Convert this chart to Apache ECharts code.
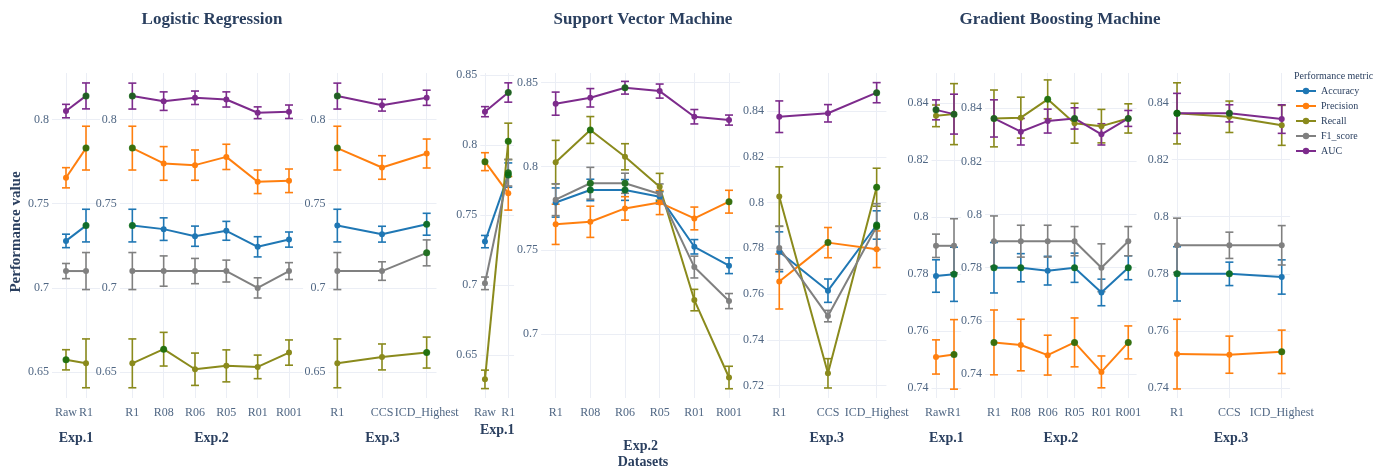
<!DOCTYPE html>
<html>
<head>
<meta charset="utf-8">
<script src="https://cdn.jsdelivr.net/npm/echarts@6/dist/echarts.min.js"></script>
<style>
  html, body { margin: 0; padding: 0; background: #ffffff; }
  #chart { width: 1381px; height: 470px; }
</style>
</head>
<body>
<div id="chart"></div>
<script>
// ---- Data -------------------------------------------------------------
// Metric order in every *Mean / *Err / *Best array:
// Accuracy, Precision, Recall, F1_score, AUC
const metrics = ['Accuracy', 'Precision', 'Recall', 'F1_score', 'AUC'];

// Tick labels of the y axes
const lrTicks   = [0.65, 0.7, 0.75, 0.8];
const svm1Ticks = [0.65, 0.7, 0.75, 0.8, 0.85];
const svm2Ticks = [0.7, 0.75, 0.8, 0.85];
const svm3Ticks = [0.72, 0.74, 0.76, 0.78, 0.8, 0.82, 0.84];
const gbmTicks  = [0.74, 0.76, 0.78, 0.8, 0.82, 0.84];

// Dataset categories
const exp1Cats = ['Raw', 'R1'];
const exp2Cats = ['R1', 'R08', 'R06', 'R05', 'R01', 'R001'];
const exp3Cats = ['R1', 'CCS', 'ICD_Highest'];

// Logistic Regression
const lr1Mean = [
  [0.7279, 0.737],
  [0.7654, 0.783],
  [0.6573, 0.6552],
  [0.71, 0.71],
  [0.805, 0.814]
];
const lr1Err = [
  [0.004, 0.0097],
  [0.006, 0.013],
  [0.006, 0.0145],
  [0.0045, 0.011],
  [0.004, 0.0077]
];
const lr1Best = [[1], [1], [0], [], [1]];

const lr2Mean = [
  [0.737, 0.7349, 0.7307, 0.7339, 0.7244, 0.7287],
  [0.783, 0.7739, 0.7729, 0.7778, 0.763, 0.7636],
  [0.6552, 0.6636, 0.6517, 0.6537, 0.6531, 0.6616],
  [0.71, 0.71, 0.71, 0.71, 0.70, 0.71],
  [0.8139, 0.8109, 0.8129, 0.8119, 0.804, 0.8046]
];
const lr2Err = [
  [0.0097, 0.0067, 0.006, 0.0056, 0.006, 0.0045],
  [0.013, 0.01, 0.009, 0.0075, 0.007, 0.007],
  [0.0145, 0.01, 0.0096, 0.0095, 0.007, 0.0075],
  [0.011, 0.009, 0.0075, 0.0065, 0.006, 0.005],
  [0.0077, 0.0055, 0.004, 0.0045, 0.0035, 0.004]
];
const lr2Best = [[0], [0], [1], [], [0]];

const lr3Mean = [
  [0.737, 0.7319, 0.7378],
  [0.783, 0.7715, 0.7798],
  [0.6552, 0.659, 0.6616],
  [0.71, 0.71, 0.7208],
  [0.8139, 0.8085, 0.8129]
];
const lr3Err = [
  [0.0097, 0.0047, 0.0065],
  [0.013, 0.007, 0.0086],
  [0.0145, 0.0077, 0.0092],
  [0.011, 0.0055, 0.0077],
  [0.0077, 0.0035, 0.0045]
];
const lr3Best = [[2], [0], [2], [2], [0]];

// Support Vector Machine
const svm1Mean = [
  [0.731, 0.7785],
  [0.7881, 0.7655],
  [0.6326, 0.8026],
  [0.7012, 0.7802],
  [0.8238, 0.8375]
];
const svm1Err = [
  [0.0044, 0.0087],
  [0.0064, 0.012],
  [0.0066, 0.013],
  [0.0045, 0.0095],
  [0.0036, 0.0069]
];
const svm1Best = [[1], [0], [1], [1], [1]];

const svm2Mean = [
  [0.7785, 0.786, 0.786, 0.782, 0.7521, 0.7408],
  [0.7655, 0.767, 0.775, 0.7785, 0.769, 0.779],
  [0.8026, 0.8218, 0.8058, 0.7879, 0.7203, 0.6741],
  [0.7802, 0.79, 0.79, 0.7836, 0.740, 0.7197],
  [0.8375, 0.841, 0.847, 0.845, 0.8297, 0.8277]
];
const svm2Err = [
  [0.0087, 0.0064, 0.0062, 0.003, 0.0043, 0.0047],
  [0.012, 0.0093, 0.007, 0.0072, 0.0068, 0.0068],
  [0.013, 0.008, 0.0078, 0.008, 0.0064, 0.0067],
  [0.0095, 0.0095, 0.006, 0.006, 0.0065, 0.0045],
  [0.0069, 0.0055, 0.0038, 0.0042, 0.0043, 0.003]
];
const svm2Best = [[1, 2], [5], [1], [1, 2], [2]];

const svm3Mean = [
  [0.7785, 0.7615, 0.7902],
  [0.7655, 0.7825, 0.7796],
  [0.8026, 0.7254, 0.8067],
  [0.7802, 0.7504, 0.7895],
  [0.8375, 0.839, 0.848]
];
const svm3Err = [
  [0.0087, 0.0051, 0.0062],
  [0.012, 0.0066, 0.008],
  [0.013, 0.0064, 0.0083],
  [0.0095, 0.0025, 0.01],
  [0.0069, 0.0038, 0.0044]
];
const svm3Best = [[2], [1], [2], [2], [2]];

// Gradient Boosting Machine
const gbm1Mean = [
  [0.7794, 0.78],
  [0.751, 0.7519],
  [0.8356, 0.8362],
  [0.79, 0.79],
  [0.8377, 0.8362]
];
const gbm1Err = [
  [0.0057, 0.0095],
  [0.006, 0.0122],
  [0.0038, 0.0107],
  [0.0041, 0.0095],
  [0.0035, 0.007]
];
const gbm1Best = [[1], [1], [1], [], [0]];

const gbm2Mean = [
  [0.78, 0.78, 0.7789, 0.78, 0.7707, 0.78],
  [0.7519, 0.7509, 0.7471, 0.7519, 0.7408, 0.7519],
  [0.8362, 0.8365, 0.8434, 0.8344, 0.8333, 0.8362],
  [0.79, 0.79, 0.79, 0.79, 0.78, 0.79],
  [0.8362, 0.8312, 0.8352, 0.8362, 0.8302, 0.8362]
];
const gbm2Err = [
  [0.0095, 0.0053, 0.0054, 0.0055, 0.005, 0.0045],
  [0.0122, 0.0097, 0.0075, 0.0092, 0.006, 0.0062],
  [0.0107, 0.0077, 0.0073, 0.0075, 0.0063, 0.0055],
  [0.0095, 0.006, 0.006, 0.0055, 0.009, 0.0055],
  [0.007, 0.005, 0.0045, 0.004, 0.004, 0.003]
];
const gbm2Best = [[0, 1, 3, 5], [0, 3, 5], [2], [], [0, 3, 5]];

const gbm3Mean = [
  [0.78, 0.78, 0.7789],
  [0.7519, 0.7517, 0.7527],
  [0.8362, 0.835, 0.832],
  [0.79, 0.79, 0.79],
  [0.8362, 0.8362, 0.8342]
];
const gbm3Err = [
  [0.0095, 0.0041, 0.006],
  [0.0122, 0.0065, 0.0076],
  [0.0107, 0.0055, 0.007],
  [0.0095, 0.0046, 0.0069],
  [0.007, 0.003, 0.005]
];
const gbm3Best = [[0, 1], [2], [0], [], [0, 1]];

// ---- Styling and layout ----------------------------------------------
const FONT = '"Liberation Serif", "Times New Roman", serif';
const TICK_COLOR = '#506784';
const TEXT_COLOR = '#2a3f5f';
const GRID_COLOR = '#ebeef5';
const metricColors = ['#1f77b4', '#ff7f0e', '#8a8a1c', '#808080', '#7d2b8c'];
const BEST_COLOR = '#0b6a0b';
const PLOT_TOP = 73;
const PLOT_HEIGHT = 325;

// One entry per subplot: data references plus its frame on the canvas
const panels = [
  { cats: exp1Cats, mean: lr1Mean, err: lr1Err, best: lr1Best, ticks: lrTicks, exp: 'Exp.1', expY: 438,
    left: 52, right: 100, xMin: -0.7, xMax: 1.7, yMin: 0.63462, yMax: 0.82761 },
  { cats: exp2Cats, mean: lr2Mean, err: lr2Err, best: lr2Best, ticks: lrTicks, exp: 'Exp.2', expY: 438,
    left: 119.8, right: 303.1, xMin: -0.4, xMax: 5.45, yMin: 0.63462, yMax: 0.82761 },
  { cats: exp3Cats, mean: lr3Mean, err: lr3Err, best: lr3Best, ticks: lrTicks, exp: 'Exp.3', expY: 438,
    left: 328.4, right: 436.5, xMin: -0.2, xMax: 2.22, yMin: 0.63462, yMax: 0.82761 },
  { cats: exp1Cats, mean: svm1Mean, err: svm1Err, best: svm1Best, ticks: svm1Ticks, exp: 'Exp.1', expY: 430,
    left: 480.3, right: 514.1, xMin: -0.2, xMax: 1.25, yMin: 0.61929, yMax: 0.85143 },
  { cats: exp2Cats, mean: svm2Mean, err: svm2Err, best: svm2Best, ticks: svm2Ticks, exp: 'Exp.2', expY: 446,
    left: 541.1, right: 740.1, xMin: -0.42, xMax: 5.32, yMin: 0.66187, yMax: 0.85579 },
  { cats: exp3Cats, mean: svm3Mean, err: svm3Err, best: svm3Best, ticks: svm3Ticks, exp: 'Exp.3', expY: 438,
    left: 767.1, right: 886.4, xMin: -0.25, xMax: 2.2, yMin: 0.71462, yMax: 0.8566 },
  { cats: exp1Cats, mean: gbm1Mean, err: gbm1Err, best: gbm1Best, ticks: gbmTicks, exp: 'Exp.1', expY: 438,
    left: 931.5, right: 961.2, xMin: -0.25, xMax: 1.4, yMin: 0.7366, yMax: 0.85063 },
  { cats: exp2Cats, mean: gbm2Mean, err: gbm2Err, best: gbm2Best, ticks: gbmTicks, exp: 'Exp.2', expY: 438,
    left: 985.1, right: 1136.6, xMin: -0.33, xMax: 5.31, yMin: 0.73097, yMax: 0.8533 },
  { cats: exp3Cats, mean: gbm3Mean, err: gbm3Err, best: gbm3Best, ticks: gbmTicks, exp: 'Exp.3', expY: 438,
    left: 1171.8, right: 1290.1, xMin: -0.1, xMax: 2.16, yMin: 0.73653, yMax: 0.85033 }
];

const grids = [], xAxes = [], yAxes = [], series = [], graphics = [];

// Vertical error bar with caps, positioned through the axis scales
function errorBarRenderer(color) {
  return function (params, api) {
    const x = api.value(0);
    const lo = api.coord([x, api.value(1)]);
    const hi = api.coord([x, api.value(2)]);
    const hw = 4;
    const style = { stroke: color, lineWidth: 1.6, fill: null };
    return {
      type: 'group',
      children: [
        { type: 'line', shape: { x1: lo[0], y1: lo[1], x2: hi[0], y2: hi[1] }, style: style },
        { type: 'line', shape: { x1: lo[0] - hw, y1: lo[1], x2: lo[0] + hw, y2: lo[1] }, style: style },
        { type: 'line', shape: { x1: hi[0] - hw, y1: hi[1], x2: hi[0] + hw, y2: hi[1] }, style: style }
      ]
    };
  };
}

panels.forEach((p, k) => {
  const idx = p.cats.map((_, i) => i);
  grids.push({ left: p.left, top: PLOT_TOP, width: p.right - p.left, height: PLOT_HEIGHT });

  xAxes.push({
    type: 'value', gridIndex: k, min: p.xMin, max: p.xMax,
    axisLine: { show: false },
    axisTick: { show: false, customValues: idx },
    axisLabel: {
      customValues: idx,
      formatter: v => p.cats[Math.round(v)] || '',
      color: TICK_COLOR, fontFamily: FONT, fontSize: 12, margin: 9
    },
    splitLine: { show: true, lineStyle: { color: GRID_COLOR, width: 1 } }
  });

  yAxes.push({
    type: 'value', gridIndex: k, min: p.yMin, max: p.yMax,
    axisLine: { show: false },
    axisTick: { show: false, customValues: p.ticks },
    axisLabel: {
      customValues: p.ticks,
      formatter: v => String(Math.round(v * 100) / 100),
      color: TICK_COLOR, fontFamily: FONT, fontSize: 12, margin: 3
    },
    splitLine: { show: true, lineStyle: { color: GRID_COLOR, width: 1 } }
  });

  metrics.forEach((m, j) => {
    const color = metricColors[j];
    series.push({
      type: 'custom', name: m + ' error', xAxisIndex: k, yAxisIndex: k,
      z: 2, silent: true, clip: false,
      data: p.mean[j].map((v, i) => [i, v - p.err[j][i], v + p.err[j][i]]),
      encode: { x: 0, y: [1, 2] },
      renderItem: errorBarRenderer(color)
    });
  });

  metrics.forEach((m, j) => {
    series.push({
      type: 'line', name: m, xAxisIndex: k, yAxisIndex: k, z: 3,
      data: p.mean[j].map((v, i) => [i, v]),
      symbol: 'circle', symbolSize: 6, showSymbol: true,
      lineStyle: { color: metricColors[j], width: 2 },
      itemStyle: { color: metricColors[j] },
      silent: true, clip: false
    });
  });

  const bestPts = [];
  metrics.forEach((m, j) => {
    p.best[j].forEach(i => bestPts.push([i, p.mean[j][i]]));
  });
  series.push({
    type: 'scatter', name: 'best', xAxisIndex: k, yAxisIndex: k, z: 4,
    data: bestPts, symbol: 'circle', symbolSize: 7,
    itemStyle: { color: BEST_COLOR }, silent: true, clip: false
  });

  graphics.push({
    type: 'text', x: p.left + (p.right - p.left) / 2, y: p.expY,
    style: { text: p.exp, textAlign: 'center', textVerticalAlign: 'middle',
             font: 'bold 14px ' + FONT, fill: TEXT_COLOR }
  });
});

// Axis captions, model titles and legend heading
graphics.push(
  { type: 'text', x: 643, y: 462,
    style: { text: 'Datasets', textAlign: 'center', textVerticalAlign: 'middle',
             font: 'bold 14px ' + FONT, fill: TEXT_COLOR } },
  { type: 'text', x: 16, y: 232, rotation: Math.PI / 2,
    style: { text: 'Performance value', textAlign: 'center', textVerticalAlign: 'middle',
             font: 'bold 15px ' + FONT, fill: TEXT_COLOR } },
  { type: 'text', x: 212, y: 20,
    style: { text: 'Logistic Regression', textAlign: 'center', textVerticalAlign: 'middle',
             font: 'bold 17px ' + FONT, fill: TEXT_COLOR } },
  { type: 'text', x: 643, y: 20,
    style: { text: 'Support Vector Machine', textAlign: 'center', textVerticalAlign: 'middle',
             font: 'bold 17px ' + FONT, fill: TEXT_COLOR } },
  { type: 'text', x: 1060, y: 20,
    style: { text: 'Gradient Boosting Machine', textAlign: 'center', textVerticalAlign: 'middle',
             font: 'bold 17px ' + FONT, fill: TEXT_COLOR } },
  { type: 'text', x: 1294, y: 76,
    style: { text: 'Performance metric', textAlign: 'left', textVerticalAlign: 'middle',
             font: '10px ' + FONT, fill: TEXT_COLOR } }
);

const chart = echarts.init(document.getElementById('chart'), null, { renderer: 'canvas', width: 1381, height: 470 });
chart.setOption({
  backgroundColor: '#ffffff',
  animation: false,
  grid: grids,
  xAxis: xAxes,
  yAxis: yAxes,
  legend: {
    data: metrics, orient: 'vertical', left: 1295, top: 86, padding: 0,
    itemWidth: 20, itemHeight: 8, itemGap: 5,
    textStyle: { fontFamily: FONT, fontSize: 10, color: TEXT_COLOR, lineHeight: 10 }
  },
  graphic: graphics,
  series: series
});
</script>
</body>
</html>
